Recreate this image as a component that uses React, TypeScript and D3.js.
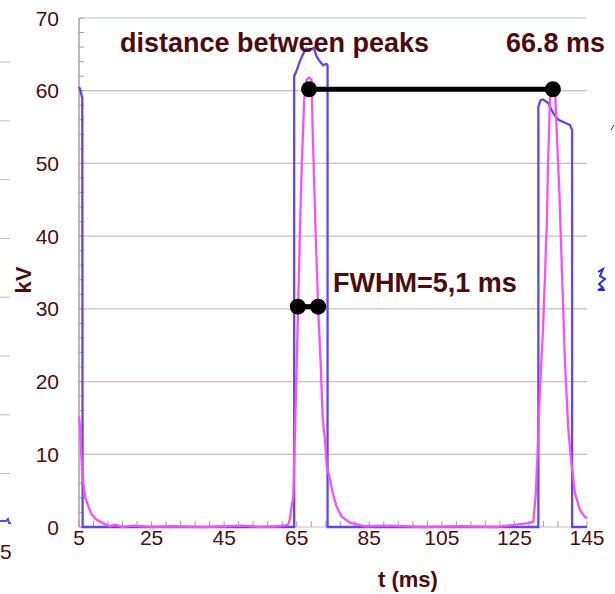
import React from "react";
import * as d3 from "d3";

// measured traces: [t (ms), kV]
const blueTrace: [number, number][] = [
  [5, 60.5], [5.3, 60.2], [5.6, 59.6], [5.9, 59], [6.0, 0],
  [64.3, 0], [64.3, 62], [65, 62.8], [66, 64.2], [67, 65.3], [67.7, 65.8],
  [68.5, 65.5], [69.7, 65.9], [70.5, 64.7], [71.4, 64], [72.3, 63.5],
  [73.2, 63.7], [73.5, 63.5], [73.5, 0],
  [131.6, 0], [131.6, 57.8], [132.2, 58.7], [132.9, 58.8], [134.3, 58.3],
  [135.7, 56.9], [137.1, 56], [138.9, 55.6], [140.3, 55.3], [140.9, 54.6],
  [140.9, 0], [145, 0],
];

const pinkTrace: [number, number][] = [
  [5, 15.2], [5.4, 12.9], [5.6, 10.2], [5.8, 8.3], [6.2, 6.0], [6.7, 4.1],
  [7.6, 2.8], [8.5, 1.7], [9.9, 1.0], [11.7, 0.5], [13.5, 0.1], [15, 0.3],
  [17, 0], [20, 0.2], [25, 0], [30, 0.1], [40, 0], [50, 0.2], [55, 0],
  [60, 0.1], [62.6, 0.3], [63.1, 1], [63.4, 2.2], [64.05, 4.1], [64.3, 8.8],
  [65.0, 22.5], [65.4, 30.3], [65.9, 40.8], [66.4, 50], [67.1, 59],
  [67.7, 61.5], [68.4, 61.8], [69.1, 61.5], [69.4, 54.6], [70.2, 40.8],
  [70.9, 30.3], [71.6, 22.5], [72.2, 14.7], [72.8, 12], [73.3, 8.3],
  [74.2, 6.5], [74.9, 4.7], [76.0, 2.8], [77.4, 1.4], [79.7, 0.6],
  [83.8, 0.1], [90, 0.2], [100, 0], [110, 0.1], [120, 0], [128.4, 0.5],
  [130.2, 0.7], [130.9, 4.6], [131.3, 9.2], [132.0, 18.4], [132.9, 27.5],
  [133.9, 41.3], [134.3, 50.5], [134.8, 58.7], [135.3, 60.4], [135.8, 60.6],
  [136.2, 60.1], [136.6, 55], [137.4, 45.9], [138.0, 36.7], [138.9, 23],
  [139.8, 13.8], [140.6, 9.2], [141.7, 4.6], [143.1, 2.3], [144.4, 1.4],
  [145, 1.2],
];

const peakMarkers: [number, number][] = [[68.4, 60.2], [135.6, 60.2]];
const fwhmMarkers: [number, number][] = [[65.3, 30.3], [70.9, 30.3]];

const xTicks = [5, 25, 45, 65, 85, 105, 125, 145];
const yTicks = [0, 10, 20, 30, 40, 50, 60, 70];

const W = 615;
const H = 594;
const textColor = "#4f0b0b";
const gridColor = "#cdbcbc";
const font = "'Liberation Sans', Arial, sans-serif";

export default function App() {
  const x = d3.scaleLinear().domain([5, 145]).range([79, 587]);
  const y = d3.scaleLinear().domain([0, 70]).range([527, 18]);
  const line = d3
    .line<[number, number]>()
    .x((d) => x(d[0]))
    .y((d) => y(d[1]));

  const yMinor = d3.range(0, 70.01, 2);
  const xMinor = d3.range(5, 145.01, 4);

  return (
    <svg
      width={W}
      height={H}
      style={{ position: "absolute", left: 0, top: 0, background: "#fff" }}
      fontFamily={font}
    >
      {/* bits of the neighbouring chart on the left edge */}
      {d3.range(62, 480, 58.8).map((v, i) => (
        <line key={"l" + i} x1={0} x2={10} y1={v} y2={v} stroke={gridColor} />
      ))}
      <path d="M0,521 L6,521 L8,519 L9,523 L11,523" fill="none" stroke="#5b4be6" strokeWidth={2} />
      <text x={0} y={559} fontSize={21} fill={textColor}>5</text>

      {/* grid */}
      {yTicks.map((t) => (
        <line key={"g" + t} x1={x(5)} x2={x(145)} y1={y(t)} y2={y(t)} stroke={gridColor} strokeWidth={1.2} />
      ))}
      <line x1={x(5)} x2={x(5)} y1={y(0)} y2={y(70)} stroke="#b09c9c" strokeWidth={1.5} />
      {yMinor.map((t) => (
        <line key={"ym" + t} x1={x(5)} x2={x(5) + 5} y1={y(t)} y2={y(t)} stroke="#b09c9c" />
      ))}
      {xMinor.map((t) => (
        <line key={"xm" + t} x1={x(t)} x2={x(t)} y1={y(0)} y2={y(0) - 6} stroke="#b09c9c" />
      ))}

      {/* tick labels */}
      {yTicks.map((t) => (
        <text key={"yt" + t} x={59} y={y(t)} dy="0.36em" textAnchor="end" fontSize={21} fill={textColor}>
          {t}
        </text>
      ))}
      {xTicks.map((t) => (
        <text key={"xt" + t} x={x(t)} y={545} textAnchor="middle" fontSize={21} fill={textColor}>
          {t}
        </text>
      ))}
      <text x={408} y={587} textAnchor="middle" fontSize={22} fontWeight="bold" fill={textColor}>
        t (ms)
      </text>
      <text
        transform="translate(31,280) rotate(-90)"
        textAnchor="middle"
        fontSize={22}
        fontWeight="bold"
        fill={textColor}
      >
        kV
      </text>

      {/* traces */}
      <path d={line(blueTrace) ?? ""} fill="none" stroke="#6048e6" strokeWidth={2.3} />
      <path d={line(pinkTrace) ?? ""} fill="none" stroke="#f850f8" strokeWidth={2.3} />

      {/* annotations */}
      <text x={120} y={52} fontSize={27} fontWeight="bold" fill={textColor}>
        distance between peaks
      </text>
      <text x={605} y={52} textAnchor="end" fontSize={27} fontWeight="bold" fill={textColor}>
        66.8 ms
      </text>
      <text x={333} y={292} fontSize={27} fontWeight="bold" fill={textColor}>
        FWHM=5,1 ms
      </text>
      <line
        x1={x(peakMarkers[0][0])}
        x2={x(peakMarkers[1][0])}
        y1={y(peakMarkers[0][1])}
        y2={y(peakMarkers[1][1])}
        stroke="#000"
        strokeWidth={5}
      />
      <line
        x1={x(fwhmMarkers[0][0])}
        x2={x(fwhmMarkers[1][0])}
        y1={y(fwhmMarkers[0][1])}
        y2={y(fwhmMarkers[1][1])}
        stroke="#000"
        strokeWidth={5}
      />
      {[...peakMarkers, ...fwhmMarkers].map((d, i) => (
        <circle key={"m" + i} cx={x(d[0])} cy={y(d[1])} r={8} fill="#000" />
      ))}

      {/* fragments on the right edge */}
      <path
        d="M598,272 L603,269 L600,276 L605,279 L599,284 L603,288 L598,290 L605,290"
        fill="none"
        stroke="#2a2ae0"
        strokeWidth={2}
      />
      <path d="M611,130 L614,125" stroke="#333" strokeWidth={1} />
    </svg>
  );
}
